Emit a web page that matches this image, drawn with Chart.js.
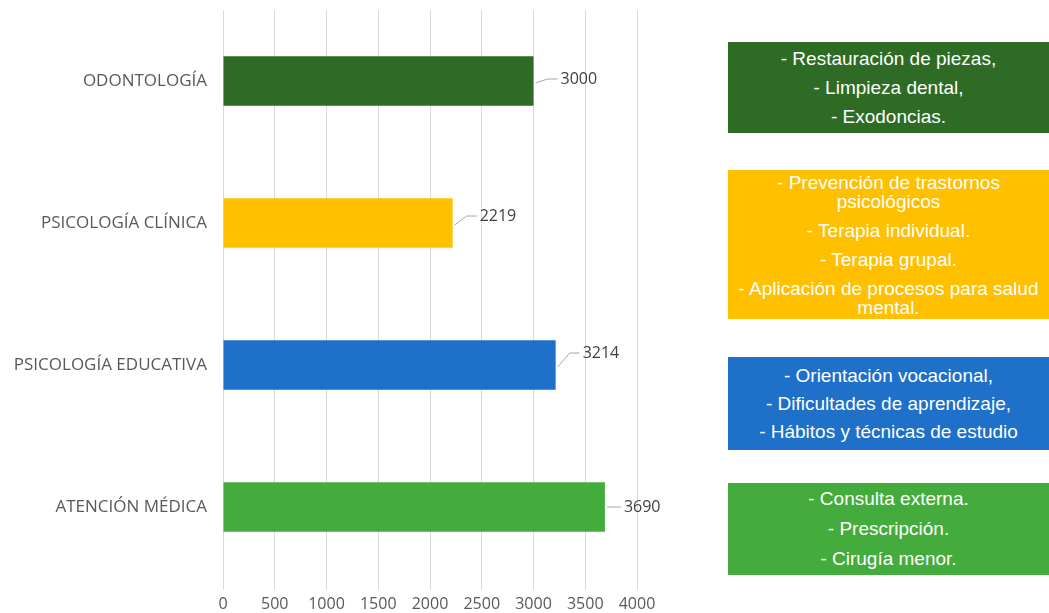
<!DOCTYPE html>
<html>
<head>
<meta charset="utf-8">
<script src="https://cdn.jsdelivr.net/npm/chart.js@4/dist/chart.umd.min.js"></script>
<style>
  body { margin: 0; background: #fff; width: 1049px; height: 613px; position: relative; overflow: hidden; }
  #wrap { position: absolute; left: 0; top: 0; width: 700px; height: 613px; }
  .box {
    position: absolute; left: 728px; width: 321px;
    color: #fff; font-family: "Liberation Sans", Arial, sans-serif; font-size: 19px;
    text-align: center; display: flex; flex-direction: column; justify-content: center;
    white-space: nowrap;
  }
  .box p { margin: 0; line-height: 19px; }
</style>
</head>
<body>
<div id="wrap"><canvas id="chart"></canvas></div>

<div class="box" style="top:42px;height:91px;background:#2e6b24;">
  <p style="line-height:29px">- Restauración de piezas,</p>
  <p style="line-height:29px">- Limpieza dental,</p>
  <p style="line-height:29px">- Exodoncias.</p>
</div>
<div class="box" style="top:170px;height:149px;background:#ffc000;">
  <p>- Prevención de trastornos<br>psicológicos</p>
  <p style="margin-top:10px">- Terapia individual.</p>
  <p style="margin-top:10px">- Terapia grupal.</p>
  <p style="margin-top:10px">- Aplicación de procesos para salud<br>mental.</p>
</div>
<div class="box" style="top:357px;height:93px;background:#1e70c8;">
  <p style="line-height:28px">- Orientación vocacional,</p>
  <p style="line-height:28px">- Dificultades de aprendizaje,</p>
  <p style="line-height:28px">- Hábitos y técnicas de estudio</p>
</div>
<div class="box" style="top:483px;height:92px;background:#44ac3c;">
  <p style="line-height:30px">- Consulta externa.</p>
  <p style="line-height:30px">- Prescripción.</p>
  <p style="line-height:30px">- Cirugía menor.</p>
</div>

<script>
const categories = ['ODONTOLOGÍA', 'PSICOLOGÍA CLÍNICA', 'PSICOLOGÍA EDUCATIVA', 'ATENCIÓN MÉDICA'];
const attendances = [3000, 2219, 3214, 3690];
const barColors = ['#2e6b24', '#ffc000', '#1e70c8', '#44ac3c'];
const xTicks = [0, 500, 1000, 1500, 2000, 2500, 3000, 3500, 4000];

// leader line + value label next to each bar (bend offsets per bar)
const leaderBends = [-2, -7, -12, 0];

const valueLabels = {
  id: 'valueLabels',
  afterDatasetsDraw(chart) {
    const ctx = chart.ctx;
    const meta = chart.getDatasetMeta(0);
    ctx.save();
    ctx.font = '16px "Open Sans", sans-serif';
    ctx.fillStyle = '#404040';
    ctx.strokeStyle = '#a6a6a6';
    ctx.lineWidth = 1;
    ctx.textBaseline = 'middle';
    meta.data.forEach((bar, i) => {
      const x0 = bar.x + 2;
      const y0 = bar.y + (leaderBends[i] ? 2 : 0);
      const y1 = bar.y + leaderBends[i];
      ctx.beginPath();
      ctx.moveTo(x0, y0);
      if (leaderBends[i]) {
        ctx.lineTo(x0 + 12, y1);
        ctx.lineTo(x0 + 22, y1);
      } else {
        ctx.lineTo(x0 + 14, y1);
      }
      ctx.stroke();
      ctx.fillText(String(attendances[i]), x0 + (leaderBends[i] ? 25 : 17), y1);
    });
    ctx.restore();
  }
};

new Chart(document.getElementById('chart').getContext('2d'), {
  type: 'bar',
  data: {
    labels: categories,
    datasets: [{
      data: attendances,
      backgroundColor: barColors,
      borderWidth: 0,
      categoryPercentage: 1,
      barPercentage: 0.35,
    }]
  },
  options: {
    indexAxis: 'y',
    responsive: true,
    maintainAspectRatio: false,
    animation: false,
    layout: { padding: { top: 10, right: 63, left: 0, bottom: 0 } },
    scales: {
      x: {
        min: 0,
        max: 4000,
        afterBuildTicks: (scale) => { scale.ticks = xTicks.map(v => ({ value: v })); },
        afterFit: (scale) => { scale.height = 35; },
        grid: { color: '#d9d9d9', tickLength: 12, tickColor: '#d9d9d9' },
        border: { display: false },
        ticks: {
          padding: 5,
          color: '#595959',
          font: { family: '"Open Sans", sans-serif', size: 16 },
          callback: (v) => String(v),
        },
      },
      y: {
        afterFit: (scale) => {
          scale.width = 223;
          scale.paddingTop = 0;
          scale.paddingBottom = 0;
        },
        grid: { display: false, drawTicks: false },
        border: { display: false },
        ticks: {
          padding: 16,
          color: '#595959',
          font: { family: '"Open Sans", sans-serif', size: 17 },
        },
      },
    },
    plugins: {
      legend: { display: false },
      tooltip: { enabled: false },
    }
  },
  plugins: [valueLabels]
});
</script>
</body>
</html>
